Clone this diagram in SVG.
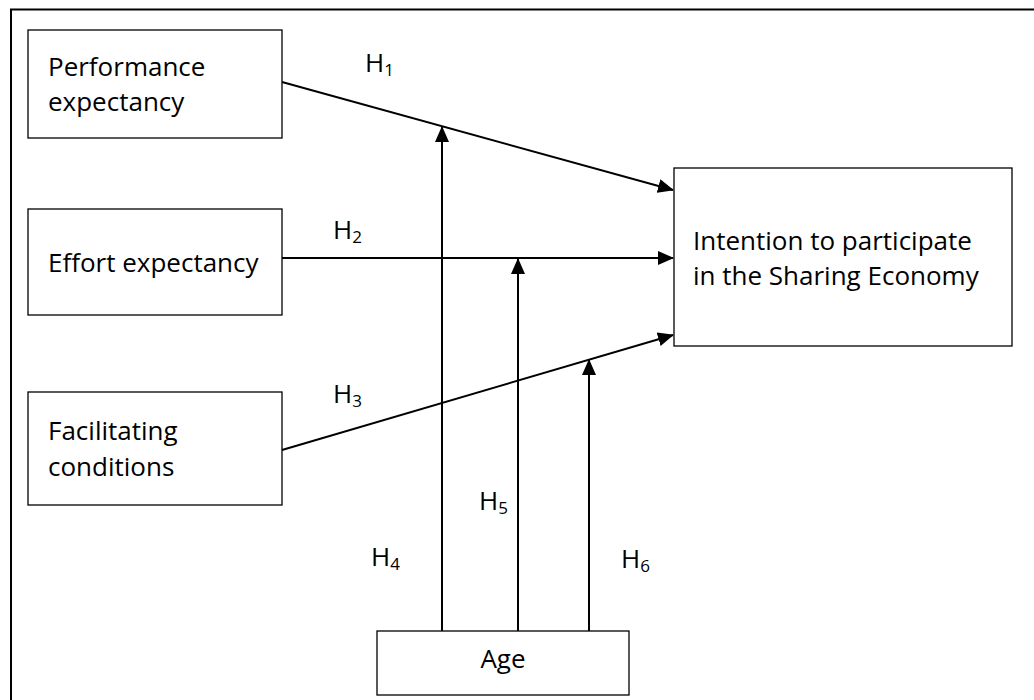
<svg xmlns="http://www.w3.org/2000/svg" width="1034" height="700" viewBox="0 0 1034 700">
<defs>
<style>
.box{fill:#fff;stroke:#000;stroke-width:1.3}
.t{font-family:"Open Sans","Noto Sans","Liberation Sans",sans-serif;font-size:26px;fill:#000}
.c{fill:none;stroke:#000;stroke-width:2}
.s{font-size:17px}
</style>
<marker id="ah" markerWidth="16" markerHeight="14" refX="15" refY="7" orient="auto" markerUnits="userSpaceOnUse">
<path d="M0,0 L16,7 L0,14 Z" fill="#000"/>
</marker>
</defs>
<rect width="1034" height="700" fill="#fff"/>
<rect x="11" y="9.5" width="1040" height="710" fill="none" stroke="#000" stroke-width="2"/>
<g id="n-perf"><rect class="box" x="28" y="30" width="254" height="108"/><text class="t" x="48" y="76">Performance</text><text class="t" x="48" y="111">expectancy</text></g>
<g id="n-effort"><rect class="box" x="28" y="209" width="254" height="106"/><text class="t" x="48" y="272">Effort expectancy</text></g>
<g id="n-fac"><rect class="box" x="28" y="392" width="254" height="113"/><text class="t" x="48" y="440">Facilitating</text><text class="t" x="48" y="476">conditions</text></g>
<g id="n-int"><rect class="box" x="674" y="168" width="338" height="178"/><text class="t" x="693" y="250">Intention to participate</text><text class="t" x="693" y="285">in the Sharing Economy</text></g>
<g id="n-age"><rect class="box" x="377" y="631" width="252" height="64"/><text class="t" x="503" y="668" text-anchor="middle">Age</text></g>
<g id="connectors">
<line class="c" x1="282" y1="82" x2="673" y2="190" marker-end="url(#ah)"/>
<line class="c" x1="282" y1="258" x2="673" y2="258" marker-end="url(#ah)"/>
<line class="c" x1="282" y1="450" x2="673" y2="335" marker-end="url(#ah)"/>
<line class="c" x1="442" y1="631" x2="442" y2="127" marker-end="url(#ah)"/>
<line class="c" x1="518" y1="631" x2="518" y2="259" marker-end="url(#ah)"/>
<line class="c" x1="589" y1="631" x2="589" y2="360" marker-end="url(#ah)"/>
</g>
<g id="labels">
<text class="t" x="365" y="72">H<tspan class="s" dy="4">1</tspan></text>
<text class="t" x="333" y="239">H<tspan class="s" dy="4">2</tspan></text>
<text class="t" x="333" y="403">H<tspan class="s" dy="4">3</tspan></text>
<text class="t" x="371" y="566">H<tspan class="s" dy="4">4</tspan></text>
<text class="t" x="479" y="510">H<tspan class="s" dy="4">5</tspan></text>
<text class="t" x="621" y="568">H<tspan class="s" dy="4">6</tspan></text>
</g>
</svg>
